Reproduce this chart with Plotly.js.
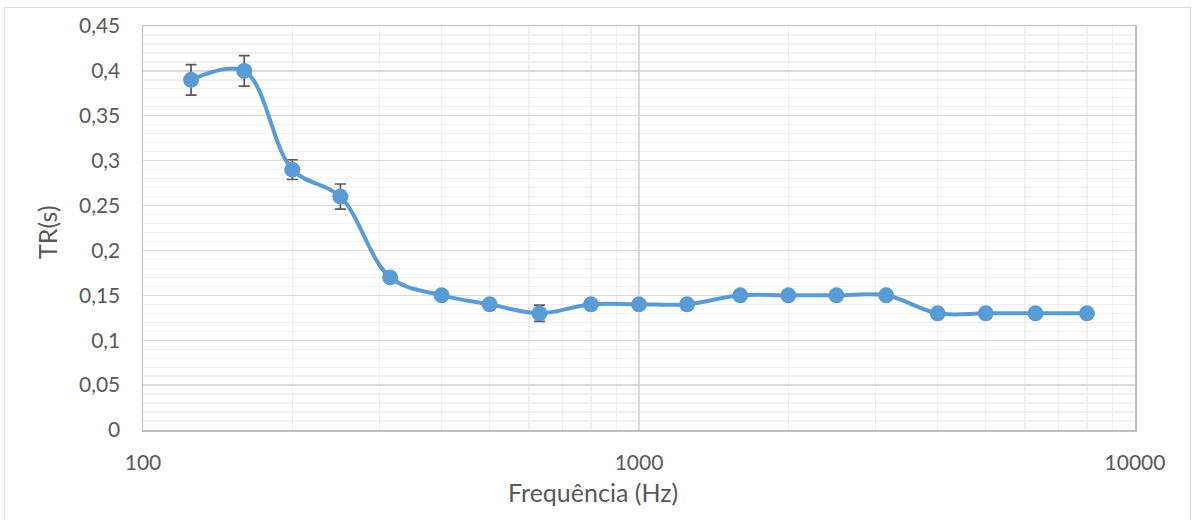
<!DOCTYPE html>
<html>
<head>
<meta charset="utf-8">
<script src="https://cdn.plot.ly/plotly-3.0.1.min.js"></script>
<style>
  html, body { margin: 0; padding: 0; background: #ffffff; }
  #wrap { position: relative; width: 1196px; height: 520px; overflow: hidden; }
  #chart { width: 1196px; height: 520px; }
  #frame { position: absolute; left: 4px; top: 7px; width: 1187px; height: 530px;
           border: 1px solid #d9d9d9; box-sizing: border-box; pointer-events: none; }
</style>
</head>
<body>
<div id="wrap">
  <div id="chart"></div>
  <div id="frame"></div>
</div>
<script>
// Frequências de banda de 1/3 de oitava (Hz)
const frequencies = [125, 160, 200, 250, 315, 400, 500, 630, 800, 1000, 1250, 1600, 2000, 2500, 3150, 4000, 5000, 6300, 8000];
// Tempo de reverberação TR (s)
const trValues = [0.39, 0.40, 0.29, 0.26, 0.17, 0.15, 0.14, 0.13, 0.14, 0.14, 0.14, 0.15, 0.15, 0.15, 0.15, 0.13, 0.13, 0.13, 0.13];
// Incerteza (desvio) de cada medida
const trErrors = [0.017, 0.017, 0.011, 0.014, 0.004, 0.004, 0.004, 0.009, 0.004, 0.004, 0.004, 0.004, 0.004, 0.004, 0.004, 0.004, 0.004, 0.004, 0.004];

const xTitle = 'Frequência (Hz)';
const yTitle = 'TR(s)';

const fontFamily = 'Lato, "Open Sans", sans-serif';
const textColor = '#595959';

const trace = {
  x: frequencies,
  y: trValues,
  type: 'scatter',
  mode: 'lines+markers',
  line: { color: '#5B9BD5', width: 4, shape: 'spline', smoothing: 1 },
  marker: { color: '#5B9BD5', size: 16 },
  error_y: { type: 'data', array: trErrors, visible: true, color: '#595959', thickness: 1.7, width: 5.5 },
  hoverinfo: 'x+y'
};

const layout = {
  width: 1196,
  height: 520,
  margin: { l: 143, r: 61, t: 26, b: 90 },
  paper_bgcolor: '#ffffff',
  plot_bgcolor: '#ffffff',
  separators: ',.',
  showlegend: false,
  font: { family: fontFamily, color: textColor, size: 21 },
  xaxis: {
    type: 'log',
    range: [2, 4],
    dtick: 1,
    tickformat: 'd',
    showgrid: true,
    gridcolor: '#d9d9d9',
    gridwidth: 1.3,
    minor: { dtick: 'D1', showgrid: true, gridcolor: '#efefef', gridwidth: 1.3 },
    showline: true,
    linecolor: '#bfbfbf',
    linewidth: 1.5,
    mirror: true,
    zeroline: false,
    ticks: 'outside',
    ticklen: 13,
    tickcolor: 'rgba(0,0,0,0)',
    tickfont: { family: fontFamily, size: 21, color: textColor }
  },
  yaxis: {
    range: [0, 0.45],
    dtick: 0.05,
    showgrid: true,
    gridcolor: '#d9d9d9',
    gridwidth: 1.3,
    minor: { dtick: 0.01, showgrid: true, gridcolor: '#efefef', gridwidth: 1.3 },
    showline: true,
    linecolor: '#bfbfbf',
    linewidth: 1.5,
    mirror: true,
    zeroline: false,
    ticks: 'outside',
    ticklen: 17,
    tickcolor: 'rgba(0,0,0,0)',
    tickfont: { family: fontFamily, size: 21, color: textColor }
  },
  annotations: [
    {
      text: xTitle, xref: 'paper', yref: 'paper', x: 0.4536, y: 0,
      xanchor: 'center', yanchor: 'middle', yshift: -62, showarrow: false,
      font: { family: fontFamily, size: 25, color: textColor }
    },
    {
      text: yTitle, xref: 'paper', yref: 'paper', x: -0.0968, y: 0.49,
      xanchor: 'center', yanchor: 'middle', textangle: -90, showarrow: false,
      font: { family: fontFamily, size: 25, color: textColor }
    }
  ]
};

Plotly.newPlot('chart', [trace], layout, { displayModeBar: false, staticPlot: true });
</script>
</body>
</html>
